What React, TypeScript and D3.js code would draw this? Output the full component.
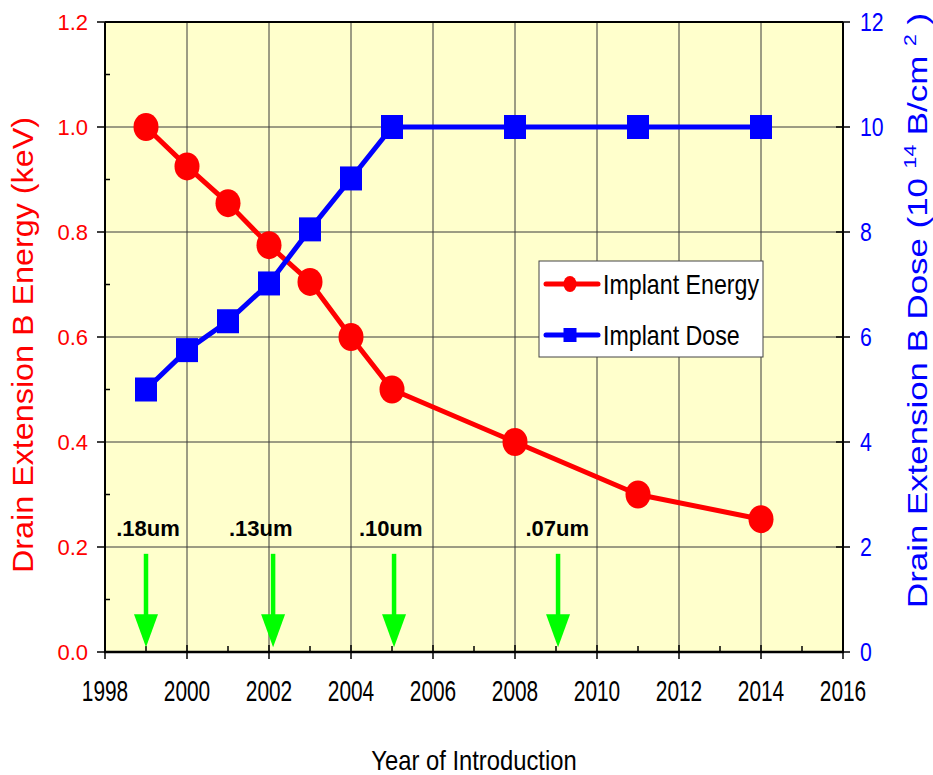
import React from "react";
import * as d3 from "d3";

const energyYears = [1999, 2000, 2001, 2002, 2003, 2004, 2005, 2008, 2011, 2014];
const energyValues = [1.0, 0.925, 0.855, 0.775, 0.705, 0.6, 0.5, 0.4, 0.3, 0.253];
const doseYears = [1999, 2000, 2001, 2002, 2003, 2004, 2005, 2008, 2011, 2014];
const doseValues = [5.0, 5.75, 6.3, 7.02, 8.05, 9.02, 10, 10, 10, 10];
const xTicks = [1998, 2000, 2002, 2004, 2006, 2008, 2010, 2012, 2014, 2016];
const xMinor = [1999, 2001, 2003, 2005, 2007, 2009, 2011, 2013, 2015];
const leftTicks = [0, 0.2, 0.4, 0.6, 0.8, 1.0, 1.2];
const leftMinor = [0.1, 0.3, 0.5, 0.7, 0.9, 1.1];
const rightTicks = [0, 2, 4, 6, 8, 10, 12];
const nodeLabels = [".18um", ".13um", ".10um", ".07um"];
const nodeArrowYears = [1999, 2002.1, 2005.05, 2009.05];
const nodeLabelYears = [1999.05, 2001.8, 2004.97, 2009.03];

const FONT = "'Liberation Sans', Arial, Helvetica, sans-serif";

export default function App() {
  const W = 933, H = 775;
  const L = 105, R = 843, T = 22, B = 652;
  const x = d3.scaleLinear().domain([1998, 2016]).range([L, R]);
  const yL = d3.scaleLinear().domain([0, 1.2]).range([B, T]);
  const yR = d3.scaleLinear().domain([0, 12]).range([B, T]);

  const energyLine = d3.line<number>()
    .x((_, i) => x(energyYears[i]))
    .y((d) => yL(d));
  const doseLine = d3.line<number>()
    .x((_, i) => x(doseYears[i]))
    .y((d) => yR(d));

  const green = "#00ff00";

  return (
    <svg width={W} height={H} style={{ position: "absolute", left: 0, top: 0, display: "block", background: "#fff" }} fontFamily={FONT}>
      <rect x={L} y={T} width={R - L} height={B - T} fill="#ffffcc" />
      {/* grid */}
      {xTicks.slice(1, -1).map((t) => (
        <line key={"gx" + t} x1={x(t)} x2={x(t)} y1={T} y2={B} stroke="#3a3a3a" strokeWidth={1} />
      ))}
      {leftTicks.slice(1, -1).map((t) => (
        <line key={"gy" + t} x1={L} x2={R} y1={yL(t)} y2={yL(t)} stroke="#3a3a3a" strokeWidth={1} />
      ))}
      {/* frame */}
      <line x1={L} x2={R} y1={T} y2={T} stroke="#000" strokeWidth={2} />
      <line x1={L} x2={L} y1={T} y2={B} stroke="#000" strokeWidth={2} />
      <line x1={R} x2={R} y1={T} y2={B} stroke="#000" strokeWidth={2} />
      <line x1={L - 1} x2={R + 1} y1={B} y2={B} stroke="#000" strokeWidth={2.5} />
      {/* left ticks */}
      {leftTicks.map((t) => (
        <g key={"lt" + t}>
          <line x1={L - 8} x2={L} y1={yL(t)} y2={yL(t)} stroke="#000" strokeWidth={1.5} />
          <text x={88} y={yL(t) + 8} textAnchor="end" fontSize={22} fill="#ff0000">{t.toFixed(1)}</text>
        </g>
      ))}
      {leftMinor.map((t) => (
        <line key={"lm" + t} x1={L} x2={L + 5} y1={yL(t)} y2={yL(t)} stroke="#000" strokeWidth={1.5} />
      ))}
      {/* right ticks */}
      {rightTicks.map((t) => (
        <g key={"rt" + t}>
          <line x1={R - 7} x2={R + 7} y1={yR(t)} y2={yR(t)} stroke="#000" strokeWidth={1.5} />
          <text transform={`translate(860,${yR(t) + 8.5}) scale(0.85,1)`} fontSize={25} fill="#0000ff">{t}</text>
        </g>
      ))}
      {/* bottom ticks */}
      {xTicks.map((t) => (
        <g key={"bt" + t}>
          <line x1={x(t)} x2={x(t)} y1={B - 7} y2={B + 7} stroke="#000" strokeWidth={1.5} />
          <text transform={`translate(${x(t)},701) scale(0.72,1)`} textAnchor="middle" fontSize={29} fill="#000">{t}</text>
        </g>
      ))}
      {xMinor.map((t) => (
        <line key={"bm" + t} x1={x(t)} x2={x(t)} y1={B - 6} y2={B} stroke="#000" strokeWidth={1.5} />
      ))}
      {/* axis titles */}
      <text transform={`translate(474,770) scale(0.85,1)`} textAnchor="middle" fontSize={28} fill="#000">Year of Introduction</text>
      <text transform={`translate(33,573) rotate(-90)`} fontSize={29} fill="#ff0000" textLength={456} lengthAdjust="spacingAndGlyphs">Drain Extension B Energy (keV)</text>
      <text transform={`translate(927,608) rotate(-90)`} fontSize={28} fill="#0000ff" textLength={595} lengthAdjust="spacingAndGlyphs">
        <tspan>Drain Extension  B Dose (10  </tspan>
        <tspan fontSize={17} dy={-11}>14</tspan>
        <tspan dy={11}> B/cm </tspan>
        <tspan fontSize={17} dy={-11}>2</tspan>
        <tspan dy={11}> )</tspan>
      </text>
      {/* node arrows */}
      {nodeArrowYears.map((yr, i) => {
        const cx = x(yr);
        const y0 = yL(0.187), yHead = yL(0.072), yTip = yL(0.009);
        return (
          <g key={"arr" + i}>
            <line x1={cx} x2={cx} y1={y0} y2={yHead + 2} stroke={green} strokeWidth={4.5} />
            <path d={`M${cx - 12},${yHead} L${cx + 12},${yHead} L${cx},${yTip} Z`} fill={green} />
            <text x={x(nodeLabelYears[i])} y={yL(0.221)} textAnchor="middle" fontSize={22} fontWeight="bold" fill="#000">{nodeLabels[i]}</text>
          </g>
        );
      })}
      {/* series */}
      <path d={energyLine(energyValues) || ""} fill="none" stroke="#ff0000" strokeWidth={5} strokeLinejoin="round" />
      <path d={doseLine(doseValues) || ""} fill="none" stroke="#0000ff" strokeWidth={5} strokeLinejoin="round" />
      {energyValues.map((v, i) => (
        <ellipse key={"e" + i} cx={x(energyYears[i])} cy={yL(v)} rx={12.5} ry={14} fill="#ff0000" />
      ))}
      {doseValues.map((v, i) => (
        <rect key={"d" + i} x={x(doseYears[i]) - 11} y={yR(v) - 12} width={22} height={24} fill="#0000ff" />
      ))}
      {/* legend */}
      <rect x={539} y={261} width={224} height={96} fill="#ffffff" stroke="#444" strokeWidth={1} />
      <line x1={546} x2={598} y1={284} y2={284} stroke="#ff0000" strokeWidth={5} strokeLinecap="round" />
      <ellipse cx={570} cy={284} rx={6.5} ry={8} fill="#ff0000" />
      <text transform="translate(603,294) scale(0.86,1)" fontSize={27} fill="#000">Implant Energy</text>
      <line x1={546} x2={598} y1={335} y2={335} stroke="#0000ff" strokeWidth={5} strokeLinecap="round" />
      <rect x={563.5} y={328} width={13} height={14} fill="#0000ff" />
      <text transform="translate(603,345) scale(0.86,1)" fontSize={27} fill="#000">Implant Dose</text>
    </svg>
  );
}
